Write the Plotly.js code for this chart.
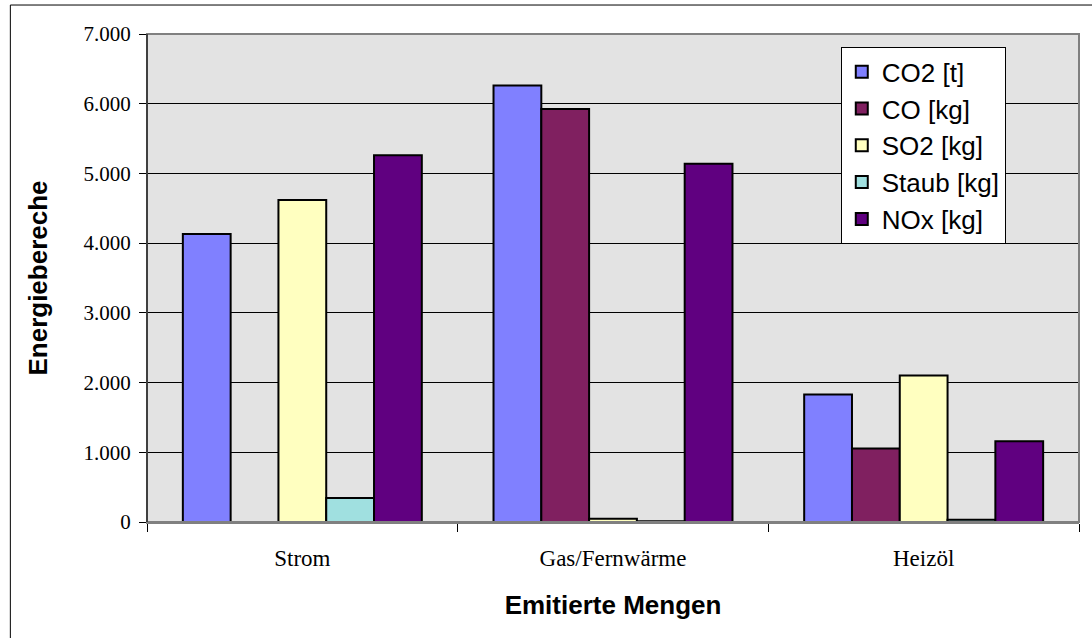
<!DOCTYPE html>
<html>
<head>
<meta charset="utf-8">
<script src="https://cdn.plot.ly/plotly-3.0.1.min.js"></script>
<style>html,body{margin:0;padding:0;background:#fff;}#chart{width:1092px;height:638px;}</style>
</head>
<body>
<div id="chart"></div>
<script>
const categories = ["Strom", "Gas/Fernwärme", "Heizöl"];
const seriesNames = ["CO2 [t]", "CO [kg]", "SO2 [kg]", "Staub [kg]", "NOx [kg]"];
const co2 = [4130, 6260, 1830];
const co = [0, 5925, 1055];
const so2 = [4620, 45, 2100];
const staub = [345, 12, 32];
const nox = [5260, 5140, 1160];
const yTicks = [0, 1000, 2000, 3000, 4000, 5000, 6000, 7000];
const colors = ["#8080FF", "#802060", "#FFFFC0", "#A0E0E0", "#600080"];
const values = [co2, co, so2, staub, nox];

const traces = values.map((v, i) => ({
  type: "bar",
  name: seriesNames[i],
  x: categories,
  y: v,
  legendgroup: "g" + i,
  marker: {color: colors[i], line: {color: "#000000", width: 2}},
  hoverinfo: "x+y+name"
}));

const L = 146.7, R = 1079, T = 34, B = 522.3;
const pw = R - L, ph = B - T;
const px = x => (x - L) / pw;
const py = y => (B - y) / ph;

const layout = {
  width: 1092, height: 638,
  margin: {l: L, r: 1092 - R, t: T, b: 638 - B, pad: 0},
  paper_bgcolor: "#FFFFFF",
  plot_bgcolor: "#E3E3E3",
  separators: ",.",
  barmode: "group",
  bargap: 0.2308,
  bargroupgap: 0,
  showlegend: true,
  legend: {
    x: px(840.7), y: py(47.3), xanchor: "left", yanchor: "top",
    bgcolor: "#FFFFFF", bordercolor: "#000000", borderwidth: 1,
    font: {family: "Liberation Sans, Arial, sans-serif", size: 26, color: "#000"},
    traceorder: "normal", tracegroupgap: 4, itemwidth: 30
  },
  xaxis: {
    type: "category",
    tickson: "boundaries",
    ticks: "outside", ticklen: 8, tickcolor: "#000", tickwidth: 1,
    ticklabelstandoff: 14,
    showline: true, linecolor: "#808080", linewidth: 2,
    showgrid: false,
    tickfont: {family: "Liberation Serif, Times New Roman, serif", size: 23, color: "#000"},
    title: {text: "Emitierte Mengen", standoff: 26,
      font: {family: "Liberation Sans, Arial, sans-serif", size: 26, color: "#000", weight: "bold"}},
    automargin: false
  },
  yaxis: {
    range: [0, 7000],
    tickvals: yTicks,
    tickformat: ",d",
    ticks: "outside", ticklen: 7, tickcolor: "#000", tickwidth: 1,
    ticklabelstandoff: 4,
    showline: true, linecolor: "#000", linewidth: 1,
    showgrid: true, gridcolor: "#000000", gridwidth: 1,
    zeroline: false,
    tickfont: {family: "Liberation Serif, Times New Roman, serif", size: 21, color: "#000"},
    title: {text: "Energiebereche", standoff: 28,
      font: {family: "Liberation Sans, Arial, sans-serif", size: 26, color: "#000", weight: "bold"}},
    automargin: false
  },
  shapes: [
    {type: "rect", xref: "paper", yref: "paper", x0: 0, x1: 1, y0: 0, y1: 1,
     line: {color: "#808080", width: 2}, layer: "above"},
    {type: "line", xref: "paper", yref: "paper", x0: 0, x1: 0, y0: 0, y1: 1,
     line: {color: "#000000", width: 1}, layer: "above"},
    {type: "rect", xref: "paper", yref: "paper", x0: px(10), x1: px(1100), y0: py(650), y1: py(5),
     line: {color: "#000000", width: 1}, layer: "below"}
  ]
};

Plotly.newPlot("chart", traces, layout, {displayModeBar: false, staticPlot: true});
</script>
</body>
</html>
